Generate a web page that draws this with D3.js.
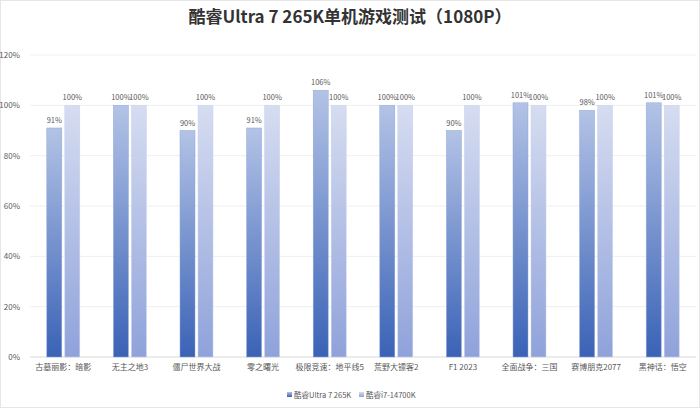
<!DOCTYPE html>
<html><head><meta charset="utf-8">
<script src="https://cdn.jsdelivr.net/npm/d3@7"></script>
<style>body{margin:0;background:#fff;font-family:"Noto Sans CJK SC","Noto Sans",sans-serif}</style>
</head><body><svg id="c" width="700" height="408"></svg>
<script>
const games = ['古墓丽影：暗影', '无主之地3', '僵尸世界大战', '零之曙光', '极限竞速：地平线5', '荒野大镖客2', 'F1 2023', '全面战争：三国', '赛博朋克2077', '黑神话：悟空']
const ultra = [91, 100, 90, 91, 106, 100, 90, 101, 98, 101]
const i7 = [100, 100, 100, 100, 100, 100, 100, 100, 100, 100]
const seriesNames = ['酷睿Ultra 7 265K', '酷睿i7-14700K']
const yTicks = [0, 20, 40, 60, 80, 100, 120]

const svg = d3.select('#c')
svg.append('rect').attr('x', 0.5).attr('y', 0.5).attr('width', 699).attr('height', 407).attr('fill', '#fff').attr('stroke', '#e6e6e6')

const defs = svg.append('defs')
const grads = [['g0', '#b3c3e6', '#3a62b6'], ['g1', '#d6ddf1', '#8fa2da']]
grads.forEach(([id, top, bot]) => {
  const g = defs.append('linearGradient').attr('id', id).attr('x1', 0).attr('y1', 0).attr('x2', 0).attr('y2', 1)
  g.append('stop').attr('offset', '0%').attr('stop-color', top)
  g.append('stop').attr('offset', '100%').attr('stop-color', bot)
})

const x = d3.scaleBand().domain(games).range([30, 696]).paddingInner(0).paddingOuter(0)
const y = d3.scaleLinear().domain([0, 120]).range([357, 55])

svg.append('text').attr('x', 350).attr('y', 23).attr('text-anchor', 'middle')
  .attr('font-size', 17).attr('font-weight', 'bold').attr('fill', '#333').text('酷睿Ultra 7 265K单机游戏测试（1080P）')

svg.append('g').selectAll('line').data(yTicks).join('line')
  .attr('x1', 30).attr('x2', 696).attr('y1', d => y(d)).attr('y2', d => y(d))
  .attr('stroke', d => d === 0 ? '#d9d9d9' : '#efefef')
svg.append('g').selectAll('text').data(yTicks).join('text')
  .attr('x', 20).attr('y', d => y(d) + 3).attr('text-anchor', 'end')
  .attr('font-size', 8).attr('fill', '#595959').text(d => d + '%')

const bw = 15, gap = 3
const series = [ultra, i7]
series.forEach((vals, si) => {
  const off = x.bandwidth() / 2 - bw - gap / 2 + si * (bw + gap)
  const g = svg.append('g')
  g.selectAll('rect').data(vals).join('rect')
    .attr('x', (d, i) => x(games[i]) + off).attr('width', bw)
    .attr('y', d => y(d)).attr('height', d => y(0) - y(d))
    .attr('fill', `url(#g${si})`).attr('stroke', si ? '#c8d1ee' : '#8fa6d8').attr('stroke-width', 0.5)
  g.selectAll('text').data(vals).join('text')
    .attr('x', (d, i) => x(games[i]) + off + bw / 2).attr('y', d => y(d) - 5)
    .attr('text-anchor', 'middle').attr('font-size', 7.5).attr('fill', '#595959').text(d => d + '%')
})

svg.append('g').selectAll('text').data(games).join('text')
  .attr('x', d => x(d) + x.bandwidth() / 2).attr('y', 370).attr('text-anchor', 'middle')
  .attr('font-size', 8).attr('fill', '#595959').text(d => d)

const leg = svg.append('g').attr('transform', 'translate(287,398)')
seriesNames.forEach((n, i) => {
  const lx = i * 72
  leg.append('rect').attr('x', lx).attr('y', -6).attr('width', 5).attr('height', 5).attr('fill', `url(#g${i})`)
  leg.append('text').attr('x', lx + 7).attr('y', 0).attr('font-size', 7.5).attr('fill', '#595959').text(n)
})
</script></body></html>
